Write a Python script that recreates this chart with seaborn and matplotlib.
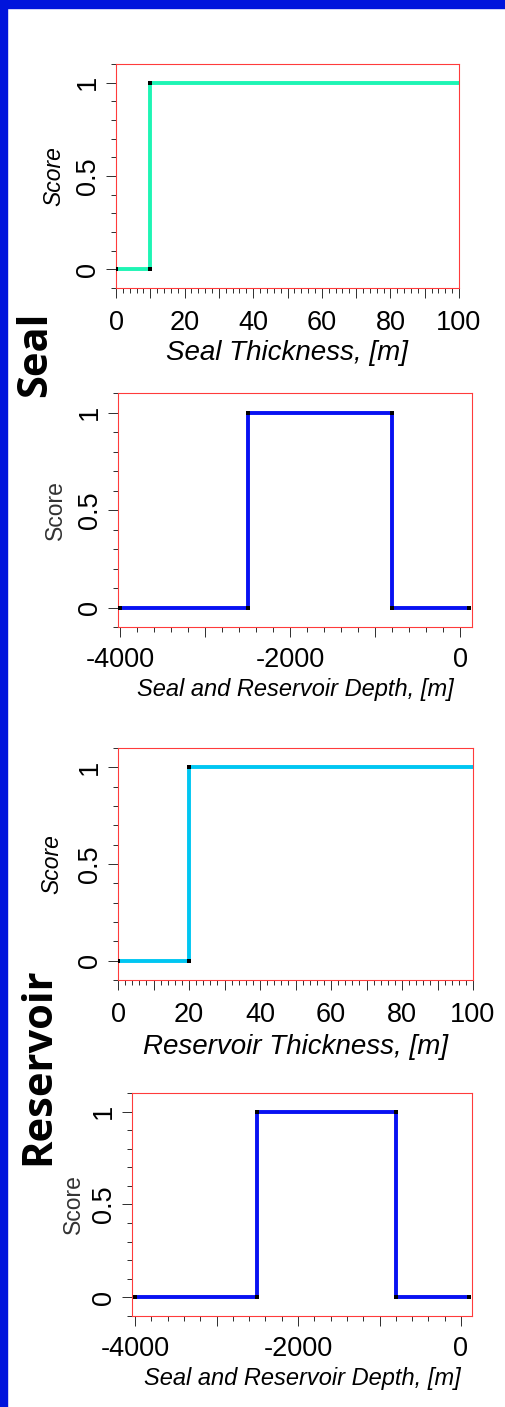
import matplotlib
matplotlib.use("Agg")
import matplotlib.pyplot as plt
import seaborn as sns
from matplotlib.ticker import MultipleLocator, FixedLocator, FuncFormatter
from matplotlib.patches import Rectangle

# ---------------- data ----------------
seal_thickness = [0, 10, 10, 100]
seal_thickness_score = [0, 0, 1, 1]

depth = [-4000, -2500, -2500, -800, -800, 100]
depth_score = [0, 0, 1, 1, 0, 0]

reservoir_thickness = [0, 20, 20, 100]
reservoir_thickness_score = [0, 0, 1, 1]

x_labels = ["Seal Thickness, [m]", "Seal and Reservoir Depth, [m]",
            "Reservoir Thickness, [m]", "Seal and Reservoir Depth, [m]"]
y_label = "Score"
y_ticks = [0, 0.5, 1]
y_tick_labels = ["0", "0.5", "1"]
group_labels = ["Seal", "Reservoir"]

# ---------------- style ----------------
sns.set_style("white")
plt.rcParams["font.family"] = ["Liberation Sans", "DejaVu Sans"]

W, H = 505, 1407
fig = plt.figure(figsize=(W / 100, H / 100), dpi=100)
fig.patch.set_facecolor("white")

PX = 72 / 100  # points per pixel

# blue frame (top and left)
fig.patches.append(Rectangle((0, 1 - 8 / H), 1, 8 / H, transform=fig.transFigure,
                             color="#0014dc", zorder=0))
fig.patches.append(Rectangle((0, 0), 7 / W, 1, transform=fig.transFigure,
                             color="#0014dc", zorder=0))

panels = [
    dict(box=(116, 64, 459, 288), x=seal_thickness, y=seal_thickness_score,
         xlim=(0, 100), major=10, minor=2, lstep=20, color="#1ef5b4",
         xlabel=x_labels[0], xls=20, ylstyle="italic", ylcolor="black",
         yl_off=64, xl_top=52, tl_pad=12, nmark=3),
    dict(box=(118, 393, 472, 627), x=depth, y=depth_score,
         xlim=(-4024, 141), major=1000, minor=200, lstep=2000, color="#0812f2",
         xlabel=x_labels[1], xls=17, ylstyle="normal", ylcolor="#333333",
         yl_off=65, xl_top=51, tl_pad=10, nmark=6),
    dict(box=(118, 748, 473, 980), x=reservoir_thickness, y=reservoir_thickness_score,
         xlim=(0, 100), major=10, minor=2, lstep=20, color="#00c6f2",
         xlabel=x_labels[2], xls=20, ylstyle="italic", ylcolor="black",
         yl_off=68, xl_top=54, tl_pad=12, nmark=3),
    dict(box=(132, 1093, 472, 1316), x=depth, y=depth_score,
         xlim=(-4037, 135), major=1000, minor=200, lstep=2000, color="#0812f2",
         xlabel=x_labels[3], xls=17, ylstyle="normal", ylcolor="#333333",
         yl_off=61, xl_top=51, tl_pad=10, nmark=6),
]

for p in panels:
    l, t, r, b = p["box"]
    bw, bh = r - l, b - t
    ax = fig.add_axes([l / W, 1 - b / H, bw / W, bh / H])
    ax.set_facecolor("white")

    sns.lineplot(x=p["x"], y=p["y"], ax=ax, estimator=None, sort=False,
                 color=p["color"], linewidth=2.8, zorder=2)
    n = p["nmark"]
    sns.scatterplot(x=p["x"][:n], y=p["y"][:n], ax=ax, marker="s", s=7,
                    color="black", linewidth=0, zorder=3)

    ax.set_xlim(*p["xlim"])
    ax.set_ylim(-0.1, 1.1)

    step = p["lstep"]
    ax.xaxis.set_major_locator(MultipleLocator(p["major"]))
    ax.xaxis.set_minor_locator(MultipleLocator(p["minor"]))
    ax.xaxis.set_major_formatter(FuncFormatter(
        lambda v, pos, s=step: ("%d" % round(v)) if abs(v / s - round(v / s)) < 1e-6 else ""))
    ax.yaxis.set_major_locator(FixedLocator(y_ticks))
    ax.yaxis.set_major_formatter(FuncFormatter(
        lambda v, pos: y_tick_labels[y_ticks.index(v)] if v in y_ticks else ""))
    ax.yaxis.set_minor_locator(MultipleLocator(0.1))

    ax.tick_params(axis="both", which="major", direction="out", length=10 * PX,
                   width=1.0 * PX, color="#333333", labelsize=19.5, labelcolor="black",
                   bottom=True, left=True)
    ax.tick_params(axis="both", which="minor", direction="out", length=5 * PX,
                   width=1.0 * PX, color="#333333", bottom=True, left=True)
    ax.tick_params(axis="x", which="major", pad=p["tl_pad"] * PX)
    ax.tick_params(axis="y", which="major", pad=5 * PX, labelrotation=90)
    for lbl in ax.get_yticklabels():
        lbl.set_va("center")

    for sp in ax.spines.values():
        sp.set_visible(True)
        sp.set_color("#ff3b3b")
        sp.set_linewidth(1.1 * PX)

    ax.set_xlabel(p["xlabel"], fontsize=p["xls"], style="italic", color="black")
    ax.xaxis.set_label_coords(0.5, -p["xl_top"] / bh)
    ax.xaxis.label.set_va("top")

    ax.set_ylabel(y_label, fontsize=16.5, style=p["ylstyle"], color=p["ylcolor"])
    ax.yaxis.set_label_coords(-(p["yl_off"] - 2) / bw, 0.5)
    ax.yaxis.label.set_va("center")

# group labels
for txt, (cx, cy) in zip(group_labels, [(36, 354), (39, 1066)]):
    fig.text(cx / W, 1 - cy / H, txt, rotation=90, ha="center", va="center",
             fontsize=30, fontweight="bold", family=["Open Sans", "DejaVu Sans"],
             color="black")

fig.savefig("out.png", dpi=100, facecolor="white")
